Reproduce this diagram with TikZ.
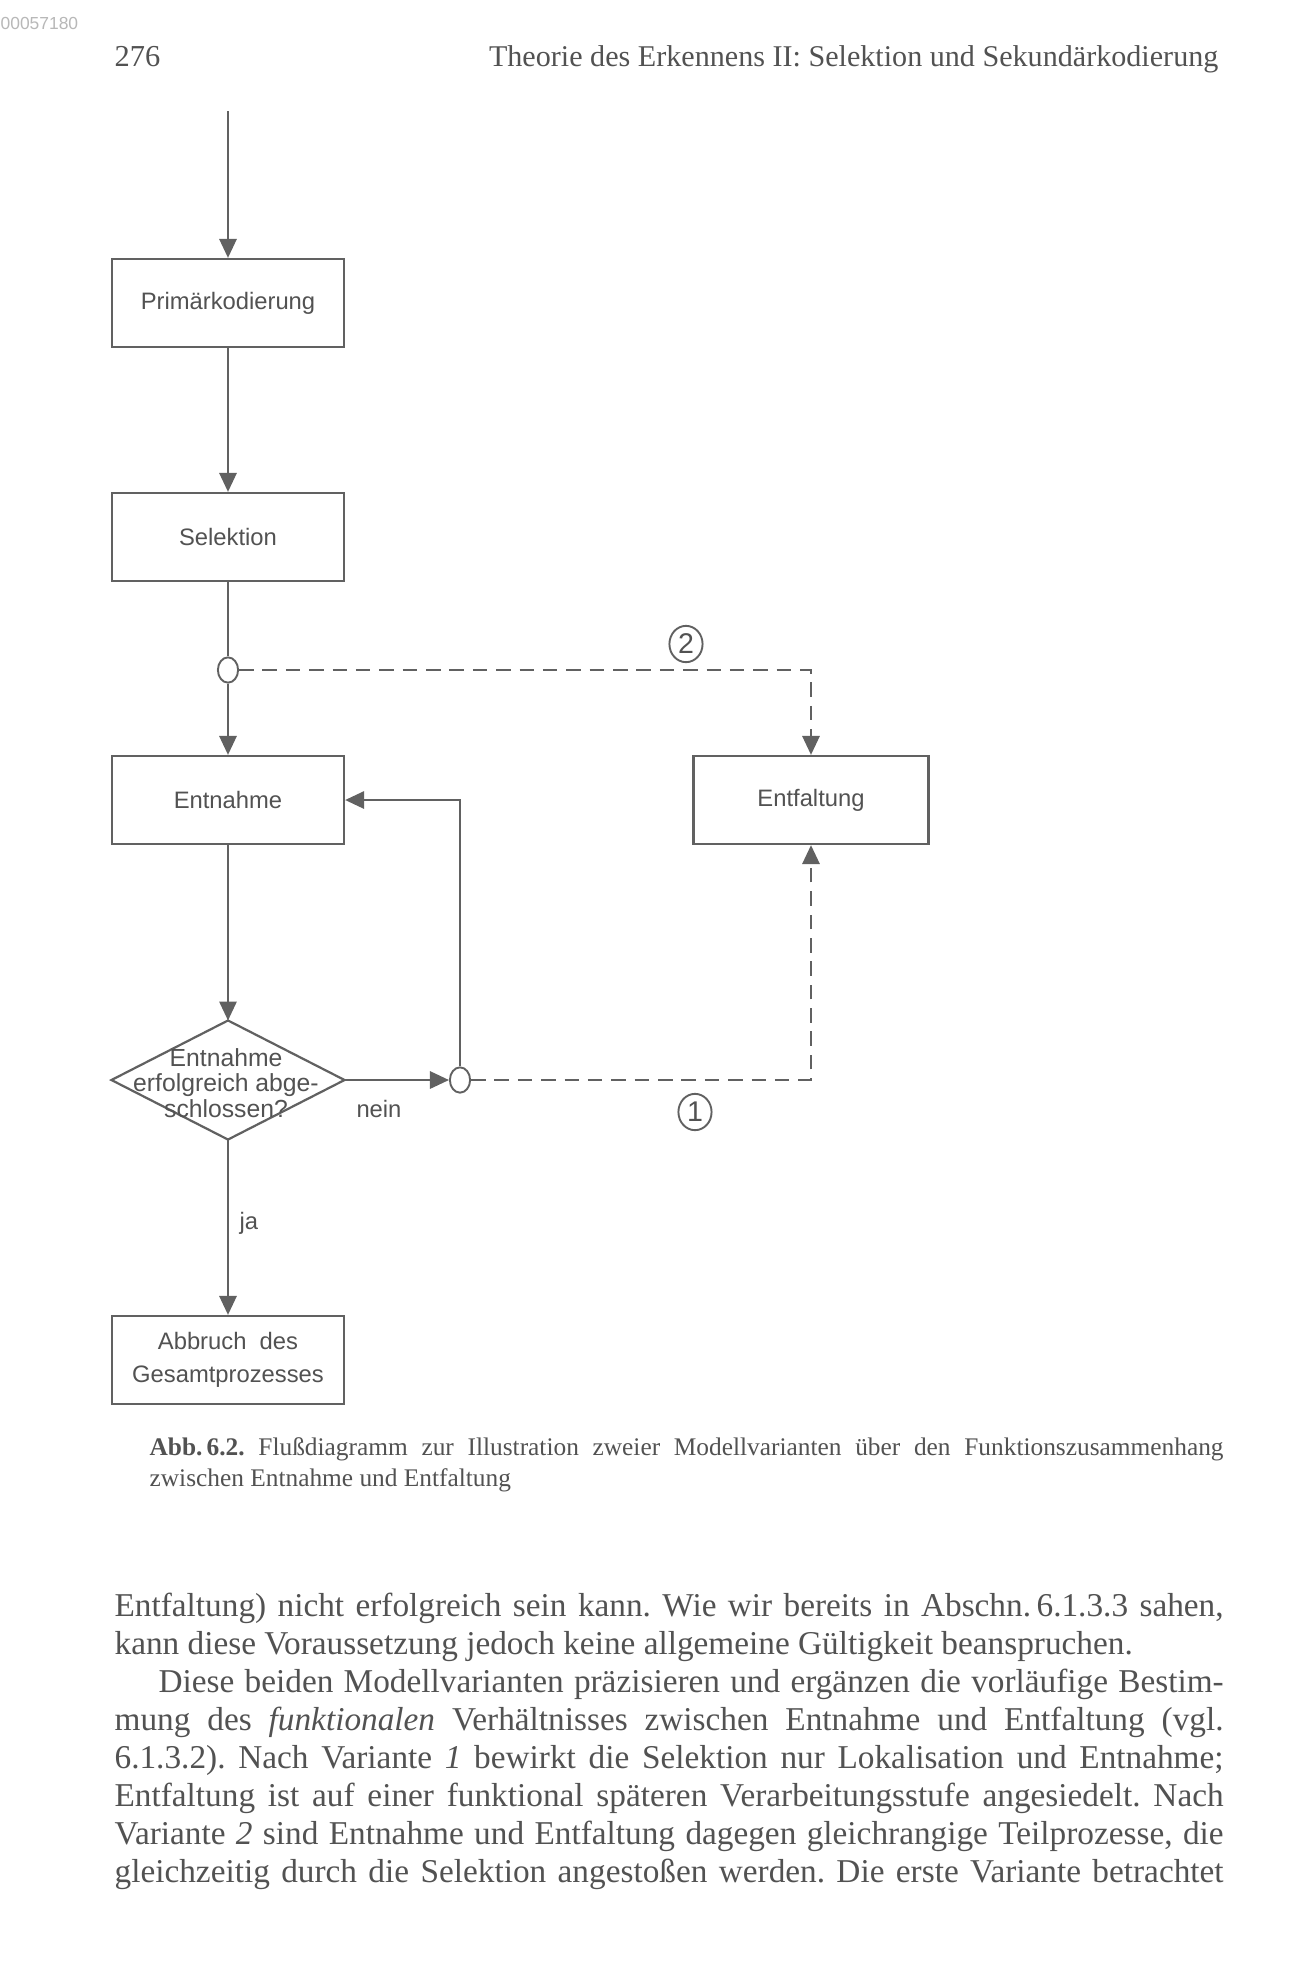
\documentclass[tikz,border=0pt]{standalone}
\usepackage{fontspec}
\setmainfont{Liberation Serif}
\setsansfont{Liberation Sans}
\usetikzlibrary{arrows.meta,shapes.geometric}
\definecolor{ink}{gray}{0.32}
\definecolor{drawink}{gray}{0.38}
\definecolor{stampgray}{gray}{0.72}
\newcommand{\fullline}[1]{\makebox[351.1pt][s]{#1}}
\frenchspacing
\begin{document}
\begin{tikzpicture}[x=0.3166pt,y=-0.3166pt,
  every node/.style={text=ink},
  txt/.style={inner sep=0pt,anchor=base west,font=\fontsize{10.5bp}{12bp}\selectfont},
  box/.style={draw=drawink,line width=0.7pt,minimum width=73.5pt,minimum height=27.9pt,inner sep=0pt,align=center,font=\sffamily\fontsize{7.5bp}{10.5bp}\selectfont},
  decision/.style={diamond,draw=drawink,line width=0.7pt,minimum width=73.8pt,minimum height=37.7pt,inner sep=0pt,outer sep=0pt},
  junct/.style={ellipse,draw=drawink,line width=0.6pt,fill=white,minimum width=6.4pt,minimum height=8pt,inner sep=0pt},
  numc/.style={ellipse,draw=drawink,line width=0.6pt,minimum width=10.5pt,minimum height=11.5pt,inner sep=0pt,font=\sffamily\fontsize{9bp}{9bp}\selectfont},
  lbl/.style={inner sep=0pt,font=\sffamily\fontsize{7.5bp}{9bp}\selectfont},
  flow/.style={draw=drawink,line width=0.6pt,-{Triangle[length=6pt,width=5.5pt]}},
  plain/.style={draw=drawink,line width=0.6pt},
  alt/.style={flow,dash pattern=on 4.6pt off 2.8pt}]
\useasboundingbox (0,0) rectangle (1295,1982);
\fill[white] (0,0) rectangle (1295,1982);
\node[anchor=west,inner sep=0pt,text=stampgray,font=\sffamily\fontsize{5.5bp}{6bp}\selectfont] (stamp) at (0,23) {00057180};
\node[txt,font=\fontsize{9.6bp}{12bp}\selectfont] (page) at (114,66) {276};
\node[txt,anchor=base east,font=\fontsize{9.5bp}{12bp}\selectfont] (head) at (1219,66) {Theorie des Erkennens II: Selektion und Sekundärkodierung};
\coordinate (in) at (228,111);
\node[box] (prim) at (228,303) {Primärkodierung};
\node[box] (sel) at (228,537) {Selektion};
\node[junct] (j1) at (228,670) {};
\node[box] (ent) at (228,800) {Entnahme};
\node[box,minimum width=74.4pt] (entf) at (811,800) {Entfaltung};
\node[decision] (dec) at (228,1080) {};
\node[lbl,align=center,font=\sffamily\fontsize{7.8bp}{8bp}\selectfont] (dectext) at (226,1083) {Entnahme\\erfolgreich abge-\\schlossen?};
\node[junct] (j2) at (460,1080) {};
\node[box] (abb) at (228,1360) {Abbruch\ \ des\\Gesamtprozesses};
\node[numc] (v2) at (686,644) {2};
\node[numc] (v1) at (695,1112) {1};
\node[lbl] (nein) at (379,1109) {nein};
\node[lbl,anchor=west] (ja) at (239,1223) {ja};
\draw[flow] (in)--(prim); \draw[flow] (prim)--(sel); \draw[plain] (sel)--(j1); \draw[flow] (j1)--(ent); \draw[flow] (ent)--(dec);
\draw[flow] (dec)--(j2); \draw[flow] (j2)|-(ent); \draw[flow] (dec)--(abb);
\draw[alt] (j1)-|(entf); \draw[alt] (j2)-|(entf);
\node[txt,font=\fontsize{8bp}{10bp}\selectfont] (cap1) at (149,1455) {\makebox[340pt][s]{\textbf{Abb.\,6.2.} Flußdiagramm zur Illustration zweier Modellvarianten über den Funktionszusammenhang}};
\node[txt,font=\fontsize{8bp}{10bp}\selectfont] (cap2) at (149,1486) {zwischen Entnahme und Entfaltung};
\node[txt] (l1) at (114,1616) {\fullline{Entfaltung) nicht erfolgreich sein kann. Wie wir bereits in Abschn.\,6.1.3.3 sahen,}};
\node[txt] (l2) at (114,1654) {kann diese Voraussetzung jedoch keine allgemeine Gültigkeit beanspruchen.};
\node[txt] (l3) at (158,1692) {\makebox[337.2pt][s]{Diese beiden Modellvarianten präzisieren und ergänzen die vorläufige Bestim-}};
\node[txt] (l4) at (114,1730) {\fullline{mung des \textit{funktionalen} Verhältnisses zwischen Entnahme und Entfaltung (vgl.}};
\node[txt] (l5) at (114,1768) {\fullline{6.1.3.2). Nach Variante \textit{1} bewirkt die Selektion nur Lokalisation und Entnahme;}};
\node[txt] (l6) at (114,1806) {\fullline{Entfaltung ist auf einer funktional späteren Verarbeitungsstufe angesiedelt. Nach}};
\node[txt] (l7) at (114,1844) {\fullline{Variante \textit{2} sind Entnahme und Entfaltung dagegen gleichrangige Teilprozesse, die}};
\node[txt] (l8) at (114,1882) {\fullline{gleichzeitig durch die Selektion angestoßen werden. Die erste Variante betrachtet}};
\end{tikzpicture}
\end{document}
